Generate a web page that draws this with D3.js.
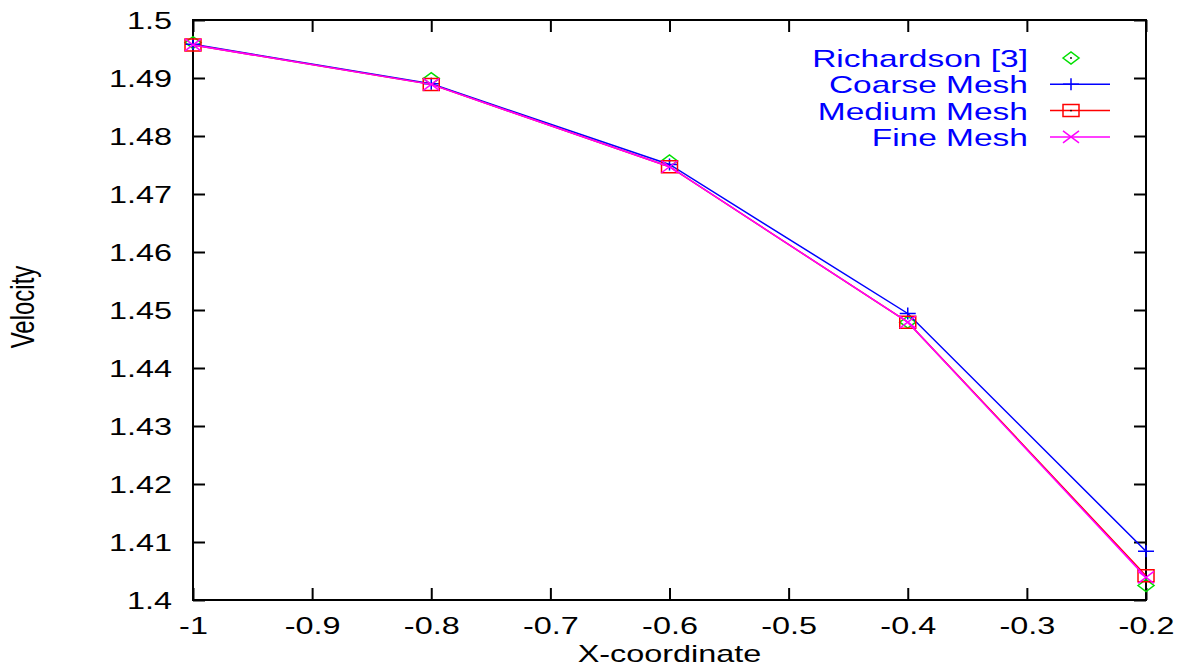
<!DOCTYPE html>
<html>
  <head>
    <meta charset="utf-8" />
    <script src="https://d3js.org/d3.v7.min.js"></script>
    <style>
      body { margin: 0px; background: #fff; overflow: hidden; }
      svg { display: block; }
      text { font-family: "Liberation Sans", Arial, sans-serif; font-size: 24px; }
    </style>
  </head>
  <body>
    <svg width="1183" height="669"></svg>
    <script>
      // data
      const xCoords = [-1, -0.8, -0.6, -0.4, -0.2];
      const richardson = [1.4961, 1.4899, 1.4757, 1.4479, 1.4025];
      const coarseMesh = [1.4958, 1.4890, 1.4751, 1.4494, 1.4084];
      const mediumMesh = [1.4957, 1.4889, 1.4747, 1.4479, 1.4042];
      const fineMesh = [1.4957, 1.4889, 1.4747, 1.4479, 1.4039];
      const xTicks = [-1, -0.9, -0.8, -0.7, -0.6, -0.5, -0.4, -0.3, -0.2];
      const yTicks = [1.4, 1.41, 1.42, 1.43, 1.44, 1.45, 1.46, 1.47, 1.48, 1.49, 1.5];

      const sx = 1.35; // gnuplot output is stretched horizontally
      const margin = { left: 193, right: 37, top: 20, bottom: 69 };
      const svg = d3.select("svg");
      const width = +svg.attr("width");
      const height = +svg.attr("height");
      const innerWidth = width - margin.left - margin.right;
      const innerHeight = height - margin.top - margin.bottom;

      const x = d3.scaleLinear().domain([-1, -0.2]).range([0, innerWidth]);
      const y = d3.scaleLinear().domain([1.4, 1.5]).range([innerHeight, 0]);

      const g = svg.append("g")
        .attr("transform", `translate(${margin.left},${margin.top})`);

      const fx = (d) => String(+d.toFixed(1));
      const fy = (d) => String(+d.toFixed(2));

      // widen text glyphs without a transform
      function stretch(sel) {
        sel.each(function () {
          const w = this.getComputedTextLength();
          d3.select(this).attr("textLength", w * sx).attr("lengthAdjust", "spacingAndGlyphs");
        });
      }

      // axes, gnuplot style: inward ticks on all four sides
      const styleAxis = (sel) => {
        sel.select(".domain").remove();
        sel.selectAll(".tick line").attr("stroke", "#000").attr("stroke-width", 2);
      };
      const bottomAxisG = g.append("g").attr("transform", `translate(0,${innerHeight})`)
        .call(d3.axisBottom(x).tickValues(xTicks).tickFormat(fx).tickSize(-12).tickPadding(0));
      bottomAxisG.call(styleAxis);
      bottomAxisG.selectAll(".tick text")
        .attr("y", 34).attr("dy", 0).attr("fill", "#000")
        .call(stretch);

      const topAxisG = g.append("g")
        .call(d3.axisTop(x).tickValues(xTicks).tickSize(-12));
      topAxisG.call(styleAxis);
      topAxisG.selectAll(".tick text").remove();

      const leftAxisG = g.append("g")
        .call(d3.axisLeft(y).tickValues(yTicks).tickFormat(fy).tickSize(-12).tickPadding(0));
      leftAxisG.call(styleAxis);
      leftAxisG.selectAll(".tick text")
        .attr("x", -21).attr("dy", "0.36em").attr("fill", "#000")
        .call(stretch);

      const rightAxisG = g.append("g").attr("transform", `translate(${innerWidth},0)`)
        .call(d3.axisRight(y).tickValues(yTicks).tickSize(-12));
      rightAxisG.call(styleAxis);
      rightAxisG.selectAll(".tick text").remove();

      g.append("rect")
        .attr("width", innerWidth).attr("height", innerHeight)
        .attr("fill", "none").attr("stroke", "#000").attr("stroke-width", 2);

      // axis labels
      svg.append("text")
        .attr("x", margin.left + innerWidth / 2).attr("y", 662)
        .attr("text-anchor", "middle")
        .text("X-coordinate")
        .call(stretch);
      svg.append("text")
        .attr("transform", `translate(34,307) scale(${sx},1) rotate(-90)`)
        .attr("text-anchor", "middle")
        .text("Velocity");

      // point symbols (half width 8, half height 6)
      const shapes = {
        diamond: "M-8,0L0,-6L8,0L0,6Z",
        plus: "M-8,0H8M0,-6V6",
        square: "M-8,-6H8V6H-8Z",
        cross: "M-8,-6L8,6M-8,6L8,-6",
      };

      const series = [
        { name: "Richardson [3]", values: richardson, color: "#00e000", shape: "diamond", line: false, dot: true },
        { name: "Coarse Mesh", values: coarseMesh, color: "#0000ff", shape: "plus", line: true, dot: false },
        { name: "Medium Mesh", values: mediumMesh, color: "#ff0000", shape: "square", line: true, dot: true },
        { name: "Fine Mesh", values: fineMesh, color: "#ff00ff", shape: "cross", line: true, dot: false },
      ];

      const line = d3.line().x((d) => x(d[0])).y((d) => y(d[1]));

      const drawSymbol = (parent, s, px, py) => {
        const m = parent.append("g").attr("transform", `translate(${px},${py})`);
        m.append("path").attr("d", shapes[s.shape])
          .attr("fill", "none").attr("stroke", s.color).attr("stroke-width", 1.5);
        if (s.dot) m.append("circle").attr("r", 0.9).attr("fill", "#000");
      };

      series.forEach((s) => {
        const pts = xCoords.map((xv, i) => [xv, s.values[i]]);
        if (s.line) {
          g.append("path").datum(pts)
            .attr("d", line)
            .attr("fill", "none").attr("stroke", s.color).attr("stroke-width", 1.5);
        }
        pts.forEach((p) => drawSymbol(g, s, x(p[0]), y(p[1])));
      });

      // legend
      const legend = svg.append("g");
      series.forEach((s, i) => {
        const cy = 58 + i * 26.3;
        legend.append("text")
          .attr("x", 1028).attr("y", cy + 9)
          .attr("text-anchor", "end").attr("fill", "#0000ff")
          .style("font-size", "24.8px")
          .text(s.name)
          .call(stretch);
        if (s.line) {
          legend.append("line")
            .attr("x1", 1050).attr("x2", 1110).attr("y1", cy).attr("y2", cy)
            .attr("stroke", s.color).attr("stroke-width", 1.5);
        }
        drawSymbol(legend, s, 1071, cy);
      });
    </script>
  </body>
</html>
